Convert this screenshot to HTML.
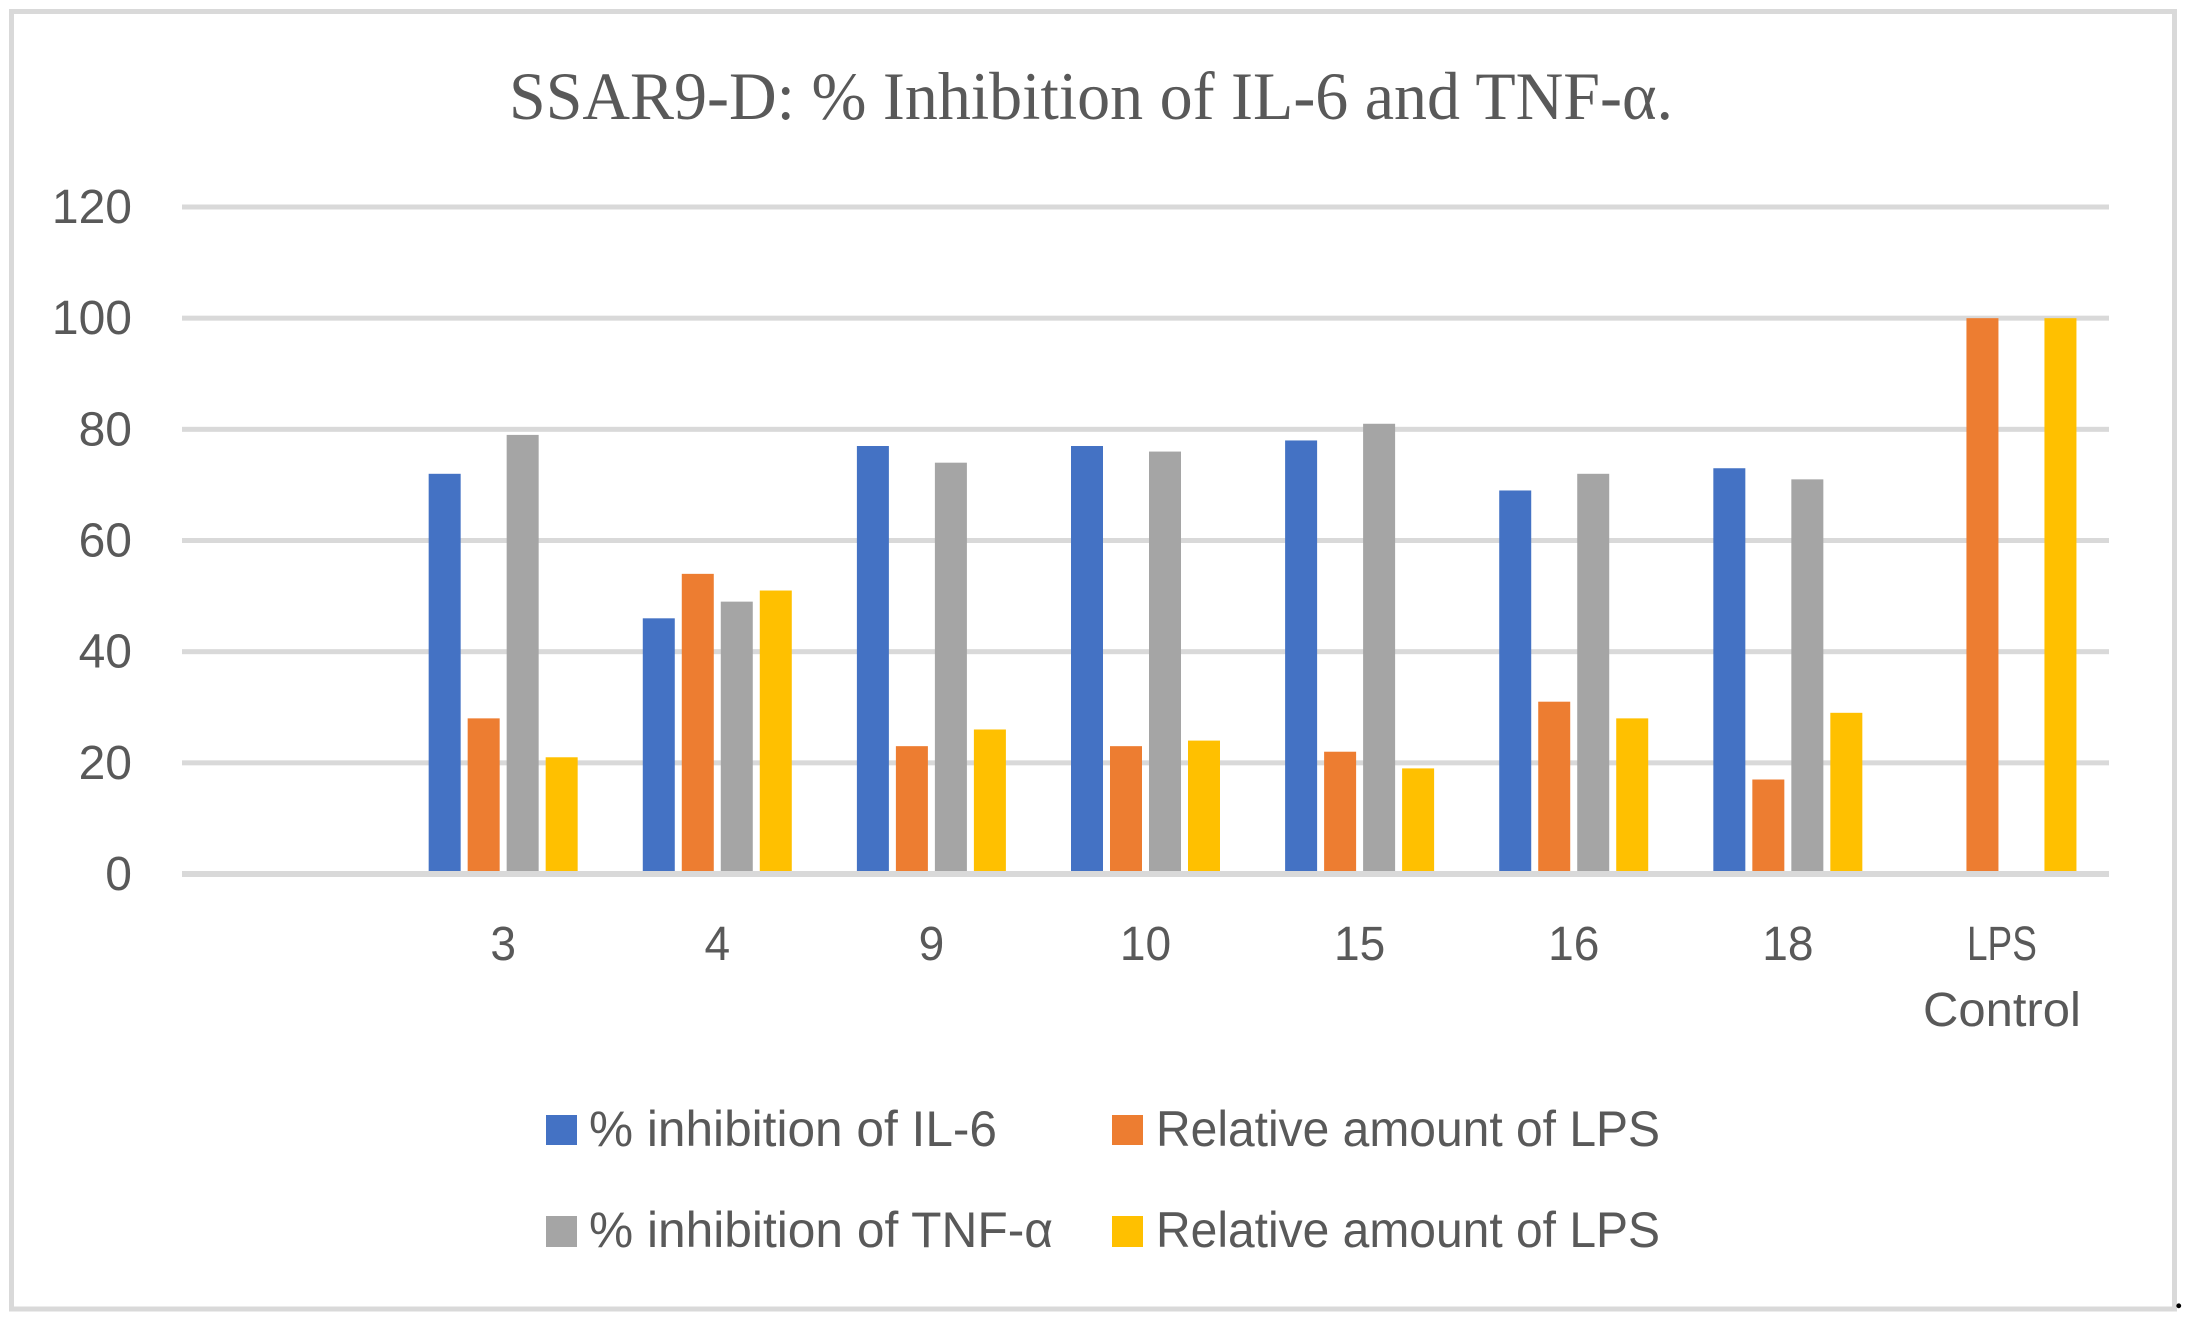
<!DOCTYPE html>
<html>
<head>
<meta charset="utf-8">
<title>SSAR9-D chart</title>
<style>
html,body{margin:0;padding:0;background:#fff;}
svg{display:block;}
text{font-family:"Liberation Sans",sans-serif;fill:#595959;}
</style>
</head>
<body>
<svg id="chart" xmlns="http://www.w3.org/2000/svg" width="2208" height="1328" viewBox="0 0 2208 1328">
  <rect x="0" y="0" width="2208" height="1328" fill="#ffffff"/>
  <rect x="11.5" y="11.5" width="2163" height="1297.5" fill="none" stroke="#d9d9d9" stroke-width="5"/>
  <text x="509" y="119" font-size="68" textLength="1164" lengthAdjust="spacingAndGlyphs" style="font-family:'Liberation Serif',serif">SSAR9-D: % Inhibition of IL-6 and TNF-α.</text>
  <g id="grid"></g>
  <g id="bars"></g>
  <g id="axis"></g>

  <g>
    <g>
      <rect x="546" y="1115" width="31" height="30" fill="#4472c4"/>
      <text x="589" y="1146" font-size="50" textLength="408" lengthAdjust="spacingAndGlyphs">% inhibition of IL-6</text>
    </g>
    <g>
      <rect x="1112" y="1115" width="31" height="30" fill="#ed7d31"/>
      <text x="1156" y="1146" font-size="50" textLength="504" lengthAdjust="spacingAndGlyphs">Relative amount of LPS</text>
    </g>
    <g>
      <rect x="546" y="1216" width="31" height="31" fill="#a5a5a5"/>
      <text x="589" y="1247" font-size="50" textLength="464" lengthAdjust="spacingAndGlyphs">% inhibition of TNF-α</text>
    </g>
    <g>
      <rect x="1112" y="1216" width="31" height="31" fill="#ffc000"/>
      <text x="1156" y="1247" font-size="50" textLength="504" lengthAdjust="spacingAndGlyphs">Relative amount of LPS</text>
    </g>
  </g>
  <text x="2175" y="1308" font-size="30" font-weight="bold" style="font-family:'Liberation Serif',serif;fill:#000">.</text>
</svg>
<script>
const categories = ["", "3", "4", "9", "10", "15", "16", "18", "LPS Control"];
const il6Inhibition = [null, 72, 46, 77, 77, 78, 69, 73, null];
const lpsAmountA = [null, 28, 54, 23, 23, 22, 31, 17, 100];
const tnfInhibition = [null, 79, 49, 74, 76, 81, 72, 71, null];
const lpsAmountB = [null, 21, 51, 26, 24, 19, 28, 29, 100];
const yTicks = [0, 20, 40, 60, 80, 100, 120];

const NS = "http://www.w3.org/2000/svg";
const plot = { left: 182, right: 2109, y0: 874, y120: 207, axisThickness: 6, barW: 32, barStep: 39 };
const yScale = v => plot.y0 - (v / 120) * (plot.y0 - plot.y120);
const bandW = () => (plot.right - plot.left) / categories.length;
const xCenter = i => plot.left + bandW() * (i + 0.5);

function mk(tag, attrs) {
  const el = document.createElementNS(NS, tag);
  for (const k in attrs) el.setAttribute(k, attrs[k]);
  return el;
}

const gridG = document.getElementById("grid");
const barsG = document.getElementById("bars");
const axisG = document.getElementById("axis");

yTicks.forEach(t => {
  if (t !== 0) {
    const line = mk("rect", { x: plot.left, y: yScale(t) - 2.5, width: plot.right - plot.left, height: 5, fill: "#d9d9d9" });
    
    
    gridG.appendChild(line);
  }
  const lab = mk("text", { x: 132, y: yScale(t) + 16, "font-size": 48, "text-anchor": "end" });
  lab.textContent = String(t);
  
  
  axisG.appendChild(lab);
});

const seriesList = [
  { key: "il6", values: il6Inhibition, color: "#4472c4" },
  { key: "lps-a", values: lpsAmountA, color: "#ed7d31" },
  { key: "tnf", values: tnfInhibition, color: "#a5a5a5" },
  { key: "lps-b", values: lpsAmountB, color: "#ffc000" }
];

seriesList.forEach((s, si) => {
  s.values.forEach((v, i) => {
    if (v === null) return;
    const groupW = plot.barStep * 3 + plot.barW;
    const x = xCenter(i) - groupW / 2 + si * plot.barStep;
    const top = yScale(v);
    const bar = mk("rect", { x: x, y: top, width: plot.barW, height: plot.y0 - top, fill: s.color });
    
    
    barsG.appendChild(bar);
  });
});

const axisLine = mk("rect", { x: plot.left, y: plot.y0 - plot.axisThickness / 2, width: plot.right - plot.left, height: plot.axisThickness, fill: "#d9d9d9" });


axisG.appendChild(axisLine);

function widthFactor(word) {
  if (word === "LPS") return 0.77;
  if (word === "Control") return 1.02;
  return 0.96;
}

categories.forEach((c, i) => {
  if (!c) return;
  c.split(" ").forEach((word, li) => {
    const t = mk("text", { x: xCenter(i), y: 960 + li * 66, "font-size": 48, "text-anchor": "middle" });
    t.textContent = word;
    
    
    axisG.appendChild(t);
    const natural = t.getComputedTextLength();
    t.setAttribute("textLength", natural * widthFactor(word));
    t.setAttribute("lengthAdjust", "spacingAndGlyphs");
  });
});
</script>
</body>
</html>
